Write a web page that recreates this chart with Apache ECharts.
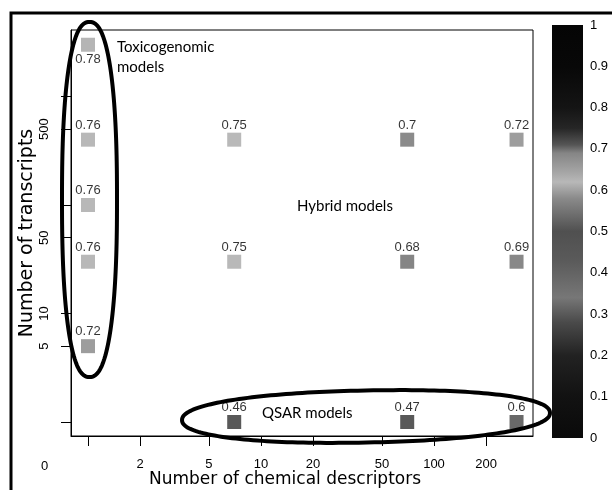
<!DOCTYPE html>
<html><head><meta charset="utf-8">
<script src="https://cdn.jsdelivr.net/npm/echarts@6/dist/echarts.min.js"></script>
<style>html,body{margin:0;padding:0;background:#fff}#c{width:612px;height:490px}</style>
</head><body><div id="c"></div>
<script>
// ---- data ----
// number of chemical descriptors / transcripts per model (0 is drawn at the "1" position on the log axes)
const descriptors = [0, 0, 0, 0, 0, 7, 70, 300, 7, 70, 300, 7, 70, 300];
const transcripts = [3000, 400, 100, 30, 5, 400, 400, 400, 30, 30, 30, 0, 0, 0];
const auc = [0.78, 0.76, 0.76, 0.76, 0.72, 0.75, 0.7, 0.72, 0.75, 0.68, 0.69, 0.46, 0.47, 0.6];
const xTickValues = [1, 2, 5, 10, 20, 50, 100, 200];
const xTickLabels = ['', '2', '5', '10', '20', '50', '100', '200'];
const yTickValues = [1, 5, 10, 50, 100, 500, 1000];
const yTickLabels = ['', '5', '10', '50', '', '500', ''];
const colorbarTicks = [0, 0.1, 0.2, 0.3, 0.4, 0.5, 0.6, 0.7, 0.8, 0.9, 1];
const annotations = ['Toxicogenomic\nmodels', 'Hybrid models', 'QSAR models'];

// ---- helpers ----
const lg = v => Math.log10(Math.max(v, 1));
const labelFor = (vals, labels) => v => {
  const i = vals.findIndex(t => Math.abs(Math.log10(t) - v) < 1e-6);
  return i >= 0 ? labels[i] : '';
};
const topT = Math.max(...transcripts);
const points = auc.map((a, i) => ({
  value: [lg(descriptors[i]), lg(transcripts[i]), a],
  label: { position: transcripts[i] === topT ? 'bottom' : 'top' }
}));

function superEllipse(cx, cy, a, b, n, rot) {
  const pts = [];
  for (let k = 0; k < 200; k++) {
    const t = k / 200 * 2 * Math.PI;
    const c = Math.cos(t), s = Math.sin(t);
    const px = a * Math.sign(c) * Math.pow(Math.abs(c), 2 / n);
    const py = b * Math.sign(s) * Math.pow(Math.abs(s), 2 / n);
    pts.push([cx + px * Math.cos(rot) + py * Math.sin(rot), cy + py * Math.cos(rot) - px * Math.sin(rot)]);
  }
  return pts;
}

const tickFont = { fontFamily: 'Liberation Sans', fontSize: 13, color: '#000' };
const chart = echarts.init(document.getElementById('c'), null, { renderer: 'canvas' });
chart.setOption({
  backgroundColor: '#fff',
  animation: false,
  grid: [
    { left: 71, top: 30, width: 462, height: 406, show: true, borderColor: '#000', borderWidth: 1, outerBoundsMode: 'none', containLabel: false },
    { left: 552, top: 25, width: 31, height: 413, outerBoundsMode: 'none', containLabel: false }
  ],
  xAxis: [{
    gridIndex: 0, type: 'value', min: -17 / 173, max: 445 / 173,
    name: 'Number of chemical descriptors', nameLocation: 'middle', nameGap: 35, nameMoveOverlap: false,
    nameTextStyle: { fontFamily: 'DejaVu Sans', fontSize: 17, color: '#000', padding: [0, 34, 0, 0] },
    axisLine: { show: true, onZero: false, lineStyle: { color: '#000' } },
    axisTick: { show: true, length: 10, customValues: xTickValues.map(lg), lineStyle: { color: '#000' } },
    axisLabel: Object.assign({ margin: 22, customValues: xTickValues.map(lg), formatter: labelFor(xTickValues, xTickLabels) }, tickFont),
    splitLine: { show: false }
  }, {
    gridIndex: 1, type: 'category', data: ['cb'], show: false
  }],
  yAxis: [{
    gridIndex: 0, type: 'value', min: -14 / 108.5, max: 392 / 108.5,
    name: 'Number of transcripts', nameLocation: 'middle', nameGap: 34, nameRotate: 90, nameMoveOverlap: false,
    nameTextStyle: { fontFamily: 'DejaVu Sans', fontSize: 19, color: '#000' },
    axisLine: { show: true, onZero: false, lineStyle: { color: '#000' } },
    axisTick: { show: true, length: 10, customValues: yTickValues.map(lg), lineStyle: { color: '#000' } },
    axisLabel: Object.assign({ margin: 20, rotate: 90, customValues: yTickValues.map(lg), formatter: labelFor(yTickValues, yTickLabels) }, tickFont),
    splitLine: { show: false }
  }, {
    gridIndex: 1, type: 'value', min: 0, max: 1, interval: 0.1, position: 'right',
    axisLine: { show: false }, axisTick: { show: false }, splitLine: { show: false },
    axisLabel: Object.assign({ margin: 7, customValues: colorbarTicks }, tickFont)
  }],
  visualMap: [{
    show: false, type: 'continuous', seriesIndex: 0, dimension: 2, min: 0.4, max: 0.8,
    inRange: { color: ['#2a2a2a', '#2e2e2e', '#333333', '#393939', '#444444', '#5a5a5a', '#6e6e6e', '#a8a8a8', '#a0a0a0'] }
  }],
  series: [{
    type: 'scatter', xAxisIndex: 0, yAxisIndex: 0,
    symbol: 'rect', symbolSize: 14,
    data: points,
    label: {
      show: true, distance: 1, color: '#000', fontFamily: 'Liberation Sans', fontSize: 13,
      formatter: p => String(p.value[2])
    },
    z: 5
  }, {
    type: 'bar', xAxisIndex: 1, yAxisIndex: 1, data: [1], barWidth: '100%',
    itemStyle: {
      color: {
        type: 'linear', x: 0, y: 0, x2: 0, y2: 1, colorStops: [
          { offset: 0, color: '#050505' }, { offset: 0.1, color: '#080808' },
          { offset: 0.2, color: '#141414' }, { offset: 0.25, color: '#262626' },
          { offset: 0.29, color: '#555555' }, { offset: 0.31, color: '#858585' },
          { offset: 0.36, color: '#a8a8a8' }, { offset: 0.38, color: '#b8b8b8' },
          { offset: 0.42, color: '#8a8a8a' }, { offset: 0.5, color: '#505050' },
          { offset: 0.57, color: '#5a5a5a' }, { offset: 0.66, color: '#777777' },
          { offset: 0.72, color: '#4a4a4a' }, { offset: 0.8, color: '#222222' },
          { offset: 0.9, color: '#121212' }, { offset: 1, color: '#0a0a0a' }
        ]
      }
    }
  }],
  graphic: [
    { type: 'rect', shape: { x: 11, y: 13, width: 640, height: 520 }, style: { fill: 'none', stroke: '#000', lineWidth: 3 }, z: 100 },
    { type: 'polygon', shape: { points: superEllipse(89.5, 199.5, 27.5, 177.5, 2.4, 0) }, style: { fill: 'none', stroke: '#000', lineWidth: 4 }, z: 100 },
    { type: 'polygon', shape: { points: superEllipse(366, 416.5, 184, 26, 2.2, 0.02) }, style: { fill: 'none', stroke: '#000', lineWidth: 4 }, z: 100 },
    { type: 'text', left: 41, top: 460, style: { text: '0', fontFamily: 'Liberation Sans', fontSize: 13, fill: '#000' }, z: 100 },
    { type: 'text', left: 117, top: 37, style: { text: annotations[0], fontFamily: 'Lato', fontSize: 15, lineHeight: 20, fill: '#000' }, z: 100 },
    { type: 'text', left: 297, top: 199, style: { text: annotations[1], fontFamily: 'Lato', fontSize: 15, fill: '#000' }, z: 100 },
    { type: 'text', left: 262, top: 406, style: { text: annotations[2], fontFamily: 'Lato', fontSize: 15, fill: '#000' }, z: 100 }
  ]
});
</script>
</body></html>
